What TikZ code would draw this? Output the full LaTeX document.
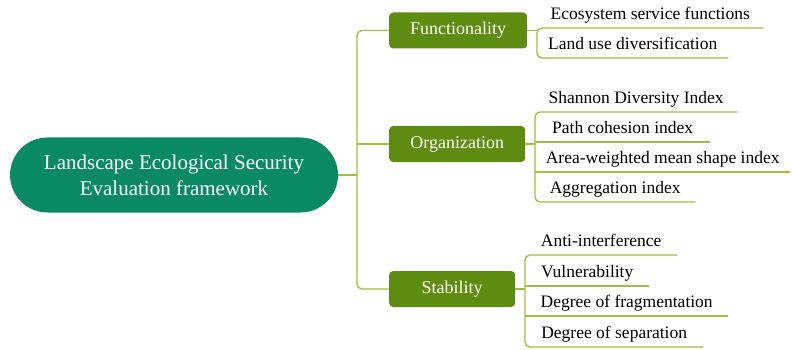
\documentclass[tikz,border=0pt]{standalone}
\usepackage{fontspec}
\setmainfont{Liberation Serif}
\begin{document}
\definecolor{rootgreen}{RGB}{10,138,98}
\definecolor{boxgreen}{RGB}{94,140,16}
\definecolor{linkgreen}{RGB}{160,190,62}
\begin{tikzpicture}[x=1pt,y=-1pt,
  link/.style={draw=linkgreen,line width=1.4pt},
  rootbox/.style={fill=rootgreen,text=white,rounded corners=37.5pt,
    minimum width=328pt,minimum height=75pt,inner sep=0pt,align=center,
    font=\fontsize{21}{26}\selectfont},
  catbox/.style={fill=boxgreen,text=white,rounded corners=4pt,anchor=west,
    minimum height=36pt,inner sep=0pt,font=\fontsize{18}{20}\selectfont},
  leaf/.style={anchor=south west,inner xsep=0pt,inner ysep=4.5pt,
    text height=12pt,text depth=3.5pt,font=\fontsize{17.5}{20}\selectfont}]
\useasboundingbox (0,0) rectangle (792,350);

% root and category boxes
\node[rootbox] (root) at (174,175) {Landscape Ecological Security\\Evaluation framework};
\node[catbox,minimum width=138pt] (fun) at (389,30.5) {Functionality};
\node[catbox,minimum width=136pt] (org) at (389,144) {Organization};
\node[catbox,minimum width=126pt] (sta) at (389,289) {Stability};

% indicator leaves (the node's bottom edge is the underline)
\node[leaf,minimum width=226pt] (f1) at (537,28) {Ecosystem service functions};
\node[leaf,minimum width=191pt] (f2) at (537,58) {Land use diversification};

\node[leaf,minimum width=202pt] (o1) at (535,112) {Shannon Diversity Index};
\node[leaf,minimum width=175pt] (o2) at (535,142) {Path cohesion index};
\node[leaf,minimum width=255pt] (o3) at (535,172) {Area-weighted mean shape index};
\node[leaf,minimum width=160pt] (o4) at (535,202) {Aggregation index};

\node[leaf,minimum width=152pt] (s1) at (525,255) {Anti-interference};
\node[leaf,minimum width=124pt] (s2) at (525,286) {Vulnerability};
\node[leaf,minimum width=203pt] (s3) at (525,316) {Degree of fragmentation};
\node[leaf,minimum width=178pt] (s4) at (525,347) {Degree of separation};

% main trunk
\coordinate (tr) at (357,175);
\draw[link] (root.east) -- (tr);
\draw[link,rounded corners=5pt] (fun.west) -- (fun.west -| tr) -- (sta.west -| tr) -- (sta.west);
\draw[link] (org.west -| tr) -- (org.west);

% functionality branch
\draw[link] (fun.east) -- (fun.east -| f1.south west);
\draw[link,rounded corners=5pt] (f1.south east) -- (f1.south west) -- (f2.south west) -- (f2.south east);

% organization branch
\draw[link] (org.east) -- (org.east -| o1.south west);
\draw[link,rounded corners=5pt] (o1.south east) -- (o1.south west) -- (o4.south west) -- (o4.south east);
\draw[link] (o2.south west) -- (o2.south east);
\draw[link] (o3.south west) -- (o3.south east);

% stability branch
\draw[link] (sta.east) -- (sta.east -| s1.south west);
\draw[link,rounded corners=5pt] (s1.south east) -- (s1.south west) -- (s4.south west) -- (s4.south east);
\draw[link] (s2.south west) -- (s2.south east);
\draw[link] (s3.south west) -- (s3.south east);
\end{tikzpicture}
\end{document}
